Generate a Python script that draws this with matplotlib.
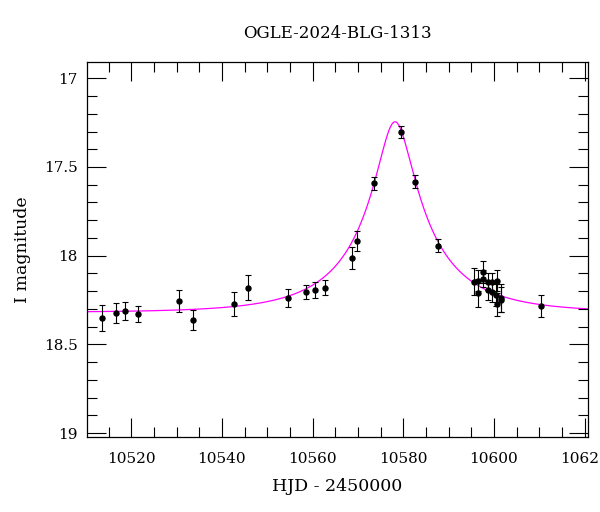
import matplotlib
matplotlib.use("Agg")
import matplotlib.pyplot as plt
from matplotlib.ticker import MultipleLocator
import numpy as np

# OGLE I-band photometry
hjd = [10513.5, 10516.6, 10518.6, 10521.5, 10530.5, 10533.7, 10542.6, 10545.7,
       10554.6, 10558.5, 10560.6, 10562.7, 10568.6, 10569.7, 10573.6, 10579.6,
       10582.6, 10587.6, 10595.6, 10596.5, 10596.5, 10597.5, 10597.5, 10598.6,
       10598.6, 10599.5, 10599.6, 10600.6, 10600.4, 10600.6, 10601.5, 10601.5,
       10610.5]
mag = [18.352, 18.324, 18.313, 18.330, 18.256, 18.362, 18.272, 18.180,
       18.238, 18.204, 18.193, 18.180, 18.014, 17.918, 17.592, 17.304,
       17.582, 17.943, 18.146, 18.211, 18.140, 18.093, 18.129, 18.146,
       18.193, 18.149, 18.202, 18.140, 18.221, 18.273, 18.239, 18.249,
       18.283]
err = [0.072, 0.058, 0.052, 0.044, 0.064, 0.055, 0.066, 0.071,
       0.049, 0.041, 0.047, 0.044, 0.063, 0.058, 0.038, 0.033,
       0.036, 0.038, 0.075, 0.077, 0.060, 0.061, 0.050, 0.050,
       0.055, 0.050, 0.060, 0.060, 0.060, 0.064, 0.080, 0.070,
       0.061]

# point-lens model parameters (estimated from the drawn curve)
t0 = 10578.2
tE = 19.6
u0 = 0.194
I_base = 18.32
f_source = 0.4


def model_mag(t):
    u = np.sqrt(u0 ** 2 + ((t - t0) / tE) ** 2)
    A = (u ** 2 + 2) / (u * np.sqrt(u ** 2 + 4))
    return I_base - 2.5 * np.log10(f_source * A + 1 - f_source)


plt.rcParams["font.family"] = "DejaVu Serif"
plt.rcParams["font.size"] = 11

fig = plt.figure(figsize=(6, 5.12), dpi=100)
ax = fig.add_axes([0.1455, 0.1471, 0.834, 0.7312])

tt = np.linspace(10510.3, 10620.7, 2000)
ax.plot(tt, model_mag(tt), color="#ff00ff", lw=0.9, zorder=1)
ax.errorbar(hjd, mag, yerr=err, fmt="o", color="black", ms=3.6,
            elinewidth=0.8, capsize=2.5, capthick=0.8, zorder=2)

ax.set_xlim(10510.3, 10620.7)
ax.set_ylim(19.02, 16.91)
ax.xaxis.set_major_locator(MultipleLocator(20))
ax.xaxis.set_minor_locator(MultipleLocator(5))
ax.yaxis.set_major_locator(MultipleLocator(0.5))
ax.yaxis.set_minor_locator(MultipleLocator(0.1))
ax.yaxis.set_major_formatter(plt.FuncFormatter(lambda v, p: f"{v:g}"))
ax.xaxis.set_major_formatter(plt.FuncFormatter(lambda v, p: f"{v:.0f}"))

ax.tick_params(which="both", direction="in", top=True, right=True, width=0.8)
ax.tick_params(which="major", length=13.5)
ax.tick_params(which="minor", length=7)
ax.tick_params(axis="x", which="major", pad=11)
ax.tick_params(axis="y", which="major", pad=7)
for s in ax.spines.values():
    s.set_linewidth(0.9)

ax.set_xlabel("HJD - 2450000", fontsize=12.5, labelpad=9)
ax.set_ylabel("I magnitude", fontsize=12.5, labelpad=9)
fig.text(0.5625, 0.9355, "OGLE-2024-BLG-1313", ha="center", va="center", fontsize=12)

fig.savefig("out.png", dpi=100)
